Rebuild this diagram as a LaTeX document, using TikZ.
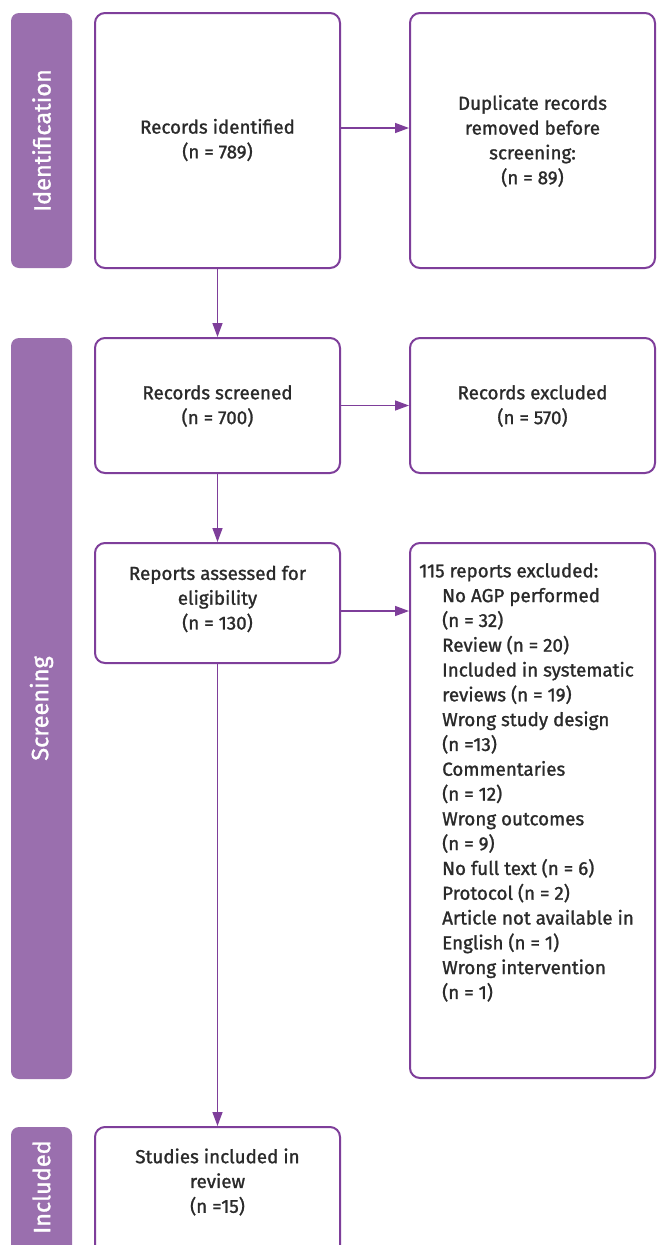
\documentclass[tikz,border=0pt]{standalone}
\usepackage{fontspec}
\setmainfont{Fira Sans}
\newfontfamily\flowfont[FakeBold=1.2]{Fira Sans}
\usetikzlibrary{arrows.meta}
\definecolor{barfill}{HTML}{9A6FAE}
\definecolor{frame}{HTML}{7E3E9A}
\definecolor{ink}{HTML}{2A2A2A}
\tikzset{
  stagebar/.style={fill=barfill, draw=none, rounded corners=8pt, inner sep=0pt},
  stagelabel/.style={text=white, rotate=90, font=\flowfont\fontsize{23.5}{28}\selectfont},
  flowbox/.style={draw=frame, line width=2pt, rounded corners=10pt, fill=white, inner sep=0pt},
  boxtext/.style={text=ink, align=center, inner sep=0pt, font=\flowfont\fontsize{18.8}{24.8}\selectfont},
  flowarrow/.style={draw=frame, line width=1.4pt, -{Triangle[length=14pt,width=10pt]}}
}
\begin{document}
\begin{tikzpicture}[x=1pt, y=-1pt]
\clip (0,0) rectangle (657,1245);
\fill[white] (0,0) rectangle (657,1245);

% stage bars on the left
\node[stagebar, minimum width=61pt, minimum height=255pt] (barid) at (41.5,140.5) {};
\node[stagelabel] (labid) at (barid.center) {Identification};
\node[stagebar, minimum width=61pt, minimum height=741pt] (barsc) at (41.5,708.5) {};
\node[stagelabel] (labsc) at (barsc.center) {Screening};
\node[stagebar, minimum width=61pt, minimum height=135pt] (barin) at (41.5,1194.5) {};
\node[stagelabel] (labin) at (41.5,1187) {Included};

% main column
\node[flowbox, minimum width=245pt, minimum height=255pt] (ident) at (217.5,140.5) {};
\node[boxtext] (identt) at (217.5,140) {Records identified\\(n = 789)};
\node[flowbox, minimum width=245pt, minimum height=135pt] (screen) at (217.5,405.5) {};
\node[boxtext] (screent) at (217.5,406) {Records screened\\(n = 700)};
\node[flowbox, minimum width=245pt, minimum height=120pt] (assess) at (217.5,603) {};
\node[boxtext] (assesst) at (217.5,599) {Reports assessed for\\eligibility\\(n = 130)};
\node[flowbox, minimum width=245pt, minimum height=135pt] (incl) at (217.5,1194.5) {};
\node[boxtext] (inclt) at (217.5,1182) {Studies included in\\review\\(n =15)};

% exclusion column
\node[flowbox, minimum width=245pt, minimum height=255pt] (dup) at (532.5,140.5) {};
\node[boxtext] (dupt) at (532.5,141) {Duplicate records\\removed before\\screening:\\(n = 89)};
\node[flowbox, minimum width=245pt, minimum height=135pt] (excl) at (532.5,405.5) {};
\node[boxtext] (exclt) at (532.5,406) {Records excluded\\(n = 570)};
\node[flowbox, minimum width=245pt, minimum height=535pt] (rep) at (532.5,810.5) {};
\node[boxtext, align=left, anchor=north west] (rept) at (419,563) {%
115 reports excluded:\\
\hspace*{23pt}No AGP performed\\
\hspace*{23pt}(n = 32)\\
\hspace*{23pt}Review (n = 20)\\
\hspace*{23pt}Included in systematic\\
\hspace*{23pt}reviews (n = 19)\\
\hspace*{23pt}Wrong study design\\
\hspace*{23pt}(n =13)\\
\hspace*{23pt}Commentaries\\
\hspace*{23pt}(n = 12)\\
\hspace*{23pt}Wrong outcomes\\
\hspace*{23pt}(n = 9)\\
\hspace*{23pt}No full text (n = 6)\\
\hspace*{23pt}Protocol (n = 2)\\
\hspace*{23pt}Article not available in\\
\hspace*{23pt}English (n = 1)\\
\hspace*{23pt}Wrong intervention\\
\hspace*{23pt}(n = 1)};

% connectors
\draw[flowarrow] (ident.east |- 0,128) -- (dup.west |- 0,128);
\draw[flowarrow] (screen.east) -- (excl.west);
\draw[flowarrow] (assess.east |- 0,611) -- (rep.west |- 0,611);
\draw[flowarrow] (ident.south) -- (screen.north);
\draw[flowarrow] (screen.south) -- (assess.north);
\draw[flowarrow] (assess.south) -- (incl.north);
\end{tikzpicture}
\end{document}
